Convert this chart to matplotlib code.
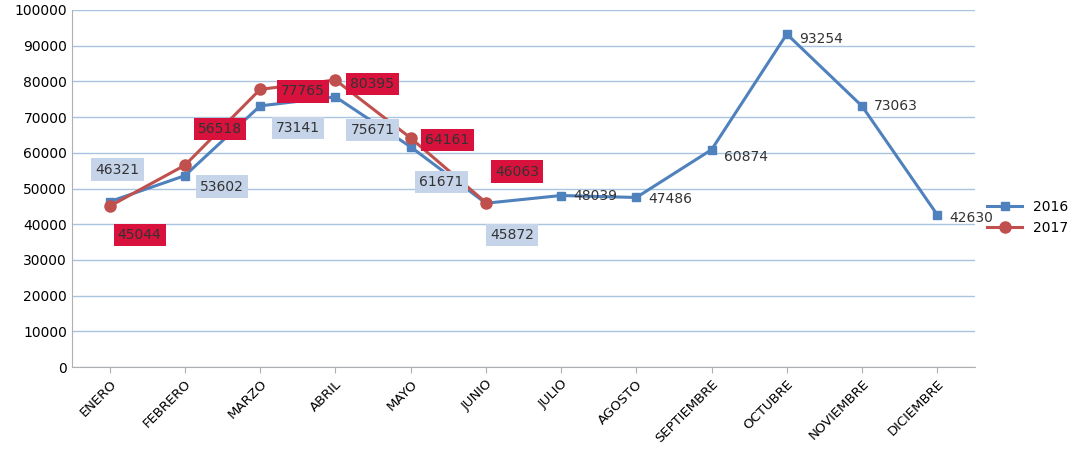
import matplotlib.pyplot as plt
import numpy as np

meses = ['ENERO', 'FEBRERO', 'MARZO', 'ABRIL', 'MAYO', 'JUNIO', 'JULIO',
         'AGOSTO', 'SEPTIEMBRE', 'OCTUBRE', 'NOVIEMBRE', 'DICIEMBRE']
v2016 = [46321, 53602, 73141, 75671, 61671, 45872, 48039, 47486, 60874, 93254, 73063, 42630]
v2017 = [45044, 56518, 77765, 80395, 64161, 46063]

# desplazamientos de etiquetas (pixeles)
off2016 = [(8, 32), (37, -11), (38, -22), (37, -33), (31, -35), (26, -32),
           (34, 0), (34, -2), (34, -7), (34, -5), (34, 0), (34, -3)]
off2017 = [(30, -29), (35, 36), (43, -2), (37, -4), (37, -2), (31, 31)]

fig = plt.figure(figsize=(10.8, 4.54), dpi=100)
ax = fig.add_axes([0.0667, 0.1916, 0.836, 0.7864])
x = np.arange(len(meses))
c16, c17 = '#4f81bd', '#c0504d'
ax.plot(x, v2016, color=c16, lw=2.2, marker='s', ms=6, label='2016', zorder=3)
ax.plot(x[:len(v2017)], v2017, color=c17, lw=2.2, marker='o', ms=8, label='2017', zorder=4)

for i, v in enumerate(v2016):
    box = dict(boxstyle='square,pad=0.3', fc='#c6d4ea', ec='none') if i < 6 else None
    ax.annotate(str(v), (i, v), xytext=off2016[i], textcoords='offset pixels',
                ha='center', va='center', fontsize=10, color='#333333', bbox=box, zorder=5)
for i, v in enumerate(v2017):
    ax.annotate(str(v), (i, v), xytext=off2017[i], textcoords='offset pixels',
                ha='center', va='center', fontsize=10, color='#333333',
                bbox=dict(boxstyle='square,pad=0.3', fc='#d8123c', ec='none'), zorder=6)

ax.set_xlim(-0.5, 11.5)
ax.set_ylim(0, 100000)
ax.set_yticks(range(0, 100001, 10000))
ax.set_xticks(x)
ax.set_xticklabels(meses, rotation=45, ha='right', rotation_mode='anchor', fontsize=9.5)
ax.tick_params(axis='y', labelsize=10, length=0)
ax.tick_params(axis='x', length=4, color='#b0b0b0')
ax.grid(axis='y', color='#a9c4e0', lw=1)
ax.set_axisbelow(True)
for s in ['top', 'right']:
    ax.spines[s].set_visible(False)
ax.spines['left'].set_color('#b0b0b0')
ax.spines['bottom'].set_color('#b0b0b0')
ax.legend(loc='center left', bbox_to_anchor=(1.0, 0.42), frameon=False, fontsize=10,
          handlelength=2.5)
fig.savefig('out.png')
